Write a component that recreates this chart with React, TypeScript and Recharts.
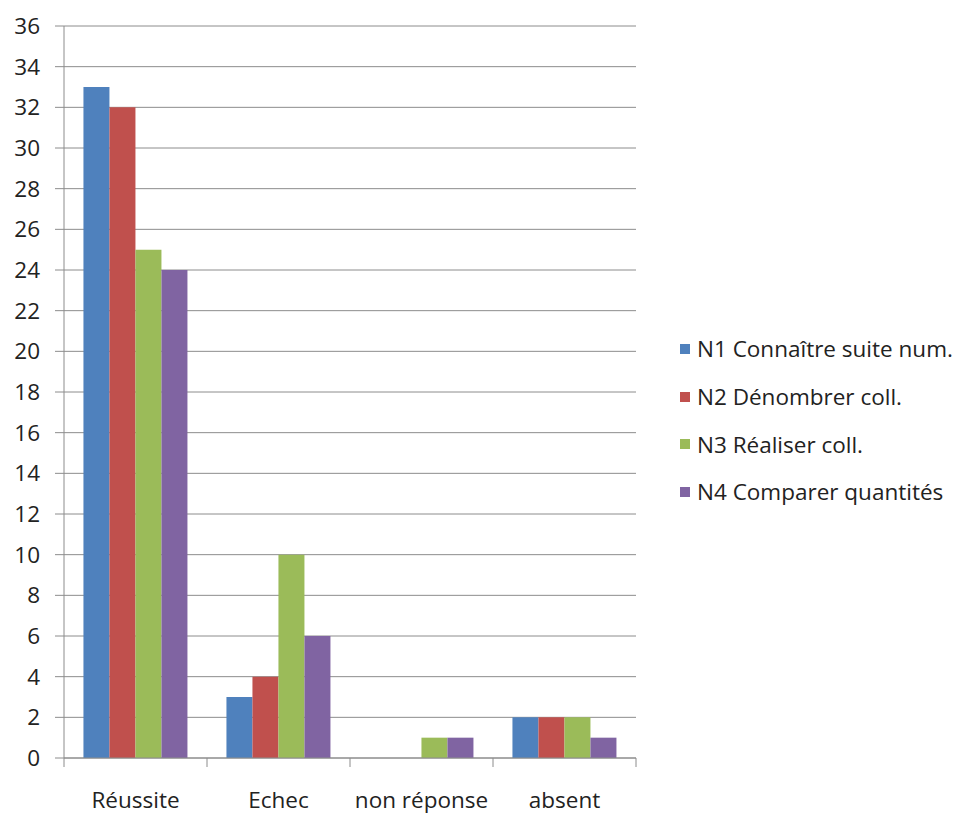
import { BarChart, Bar, XAxis, YAxis, CartesianGrid } from "recharts";

const categories = ["Réussite", "Echec", "non réponse", "absent"];
const n1 = [33, 3, 0, 2];
const n2 = [32, 4, 0, 2];
const n3 = [25, 10, 1, 2];
const n4 = [24, 6, 1, 1];
const seriesNames = [
  "N1 Connaître suite num.",
  "N2 Dénombrer coll.",
  "N3 Réaliser coll.",
  "N4 Comparer quantités",
];
const colors = ["#4F81BD", "#C0504D", "#9BBB59", "#8064A2"];
const yTicks = [0, 2, 4, 6, 8, 10, 12, 14, 16, 18, 20, 22, 24, 26, 28, 30, 32, 34, 36];

const data = categories.map((name, i) => ({
  name,
  s1: n1[i],
  s2: n2[i],
  s3: n3[i],
  s4: n4[i],
}));

const FONT = "'Open Sans', Lato, sans-serif";
const FS = 22.5;
const BAND = 143;

function XTick(props: any) {
  const { x, y, payload, index } = props;
  const left = x - BAND / 2;
  return (
    <g>
      <line x1={left} y1={y} x2={left} y2={y + 9} stroke="#8c8c8c" />
      {index === categories.length - 1 && (
        <line x1={left + BAND} y1={y} x2={left + BAND} y2={y + 9} stroke="#8c8c8c" />
      )}
      <text x={x} y={y + 50} textAnchor="middle" fill="#222" fontSize={FS} fontFamily={FONT}>
        {payload.value}
      </text>
    </g>
  );
}

function LegendBox() {
  return (
    <div
      style={{
        position: "absolute",
        left: 680,
        top: 325,
        fontFamily: FONT,
        fontSize: FS,
        color: "#222",
        whiteSpace: "nowrap",
      }}
    >
      {seriesNames.map((n, i) => (
        <div key={n} style={{ display: "flex", alignItems: "center", height: 47.7 }}>
          <span style={{ width: 10, height: 10, background: colors[i], marginRight: 7 }} />
          <span>{n}</span>
        </div>
      ))}
    </div>
  );
}

export default function App() {
  return (
    <div style={{ position: "absolute", left: 0, top: 0, width: 966, height: 814, background: "#fff" }}>
      <BarChart
        width={966}
        height={814}
        data={data}
        margin={{ top: 26, right: 330, bottom: 0, left: 0 }}
        barCategoryGap="13.6%"
        barGap={0}
      >
        <CartesianGrid vertical={false} stroke="#8c8c8c" />
        <XAxis
          dataKey="name"
          height={56}
          stroke="#8c8c8c"
          tickLine={false}
          tickSize={0}
          tickMargin={0}
          tick={<XTick />}
          interval={0}
        />
        <YAxis
          width={64}
          domain={[0, 36]}
          ticks={yTicks}
          interval={0}
          stroke="#8c8c8c"
          tickSize={9}
          tickMargin={15}
          tick={{ fill: "#222", fontSize: FS, fontFamily: FONT }}
        />
        <Bar dataKey="s1" name={seriesNames[0]} fill={colors[0]} isAnimationActive={false} />
        <Bar dataKey="s2" name={seriesNames[1]} fill={colors[1]} isAnimationActive={false} />
        <Bar dataKey="s3" name={seriesNames[2]} fill={colors[2]} isAnimationActive={false} />
        <Bar dataKey="s4" name={seriesNames[3]} fill={colors[3]} isAnimationActive={false} />
      </BarChart>
      <LegendBox />
    </div>
  );
}
